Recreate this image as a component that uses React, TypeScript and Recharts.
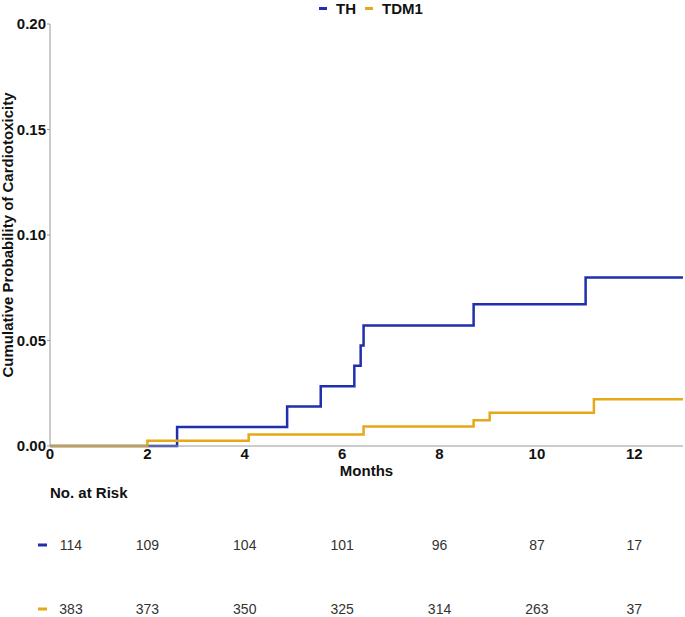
import React from "react";
import {
  LineChart,
  Line,
  XAxis,
  YAxis,
} from "recharts";

const TH_BLUE = "#1f2fae";
const TDM1_GOLD = "#e6a817";

// cumulative incidence steps (months, probability)
const thMonths = [0, 2.61, 4.87, 5.56, 6.25, 6.38, 6.44, 8.7, 11.0, 13];
const thProb = [0, 0.009, 0.0187, 0.0283, 0.038, 0.0476, 0.0571, 0.0672, 0.0799, 0.0799];

const tdm1Months = [0, 2.0, 4.08, 6.44, 8.7, 9.03, 11.17, 13];
const tdm1Prob = [0, 0.0025, 0.0055, 0.0092, 0.0122, 0.0158, 0.0222, 0.0222];

const monthTicks = [0, 2, 4, 6, 8, 10, 12];
const probTicks = [0, 0.05, 0.1, 0.15, 0.2];

const riskMonths = [0, 2, 4, 6, 8, 10, 12];
const thAtRisk = [114, 109, 104, 101, 96, 87, 17];
const tdm1AtRisk = [383, 373, 350, 325, 314, 263, 37];

const thData = thMonths.map((m, i) => ({ month: m, p: thProb[i] }));
const tdm1Data = tdm1Months.map((m, i) => ({ month: m, p: tdm1Prob[i] }));

const FONT = "'Liberation Sans', Arial, sans-serif";
const PLOT_LEFT = 50;
const PLOT_RIGHT = 683;
const X_MAX = 13;

const toX = (m: number) => PLOT_LEFT + (m / X_MAX) * (PLOT_RIGHT - PLOT_LEFT);

function LegendBox() {
  const items = [
    { name: "TH", color: TH_BLUE },
    { name: "TDM1", color: TDM1_GOLD },
  ];
  return (
    <div style={{ position: "absolute", left: 319, top: 0, display: "flex", fontFamily: FONT }}>
      {items.map((it) => (
        <div key={it.name} style={{ display: "flex", alignItems: "center", marginRight: 9 }}>
          <span style={{ width: 8, height: 3, background: it.color, display: "inline-block", marginRight: 9 }} />
          <span style={{ fontWeight: "bold", fontSize: 15, color: "#111" }}>{it.name}</span>
        </div>
      ))}
    </div>
  );
}

function RiskRow({ values, color, y }: { values: number[]; color: string; y: number }) {
  return (
    <g>
      <rect x={38} y={y - 1.5} width={9} height={3} fill={color} />
      {values.map((v, i) => (
        <text
          key={i}
          x={i === 0 ? 71 : toX(riskMonths[i])}
          y={y}
          textAnchor="middle"
          dominantBaseline="central"
          fontSize={14}
          fill="#333"
          fontFamily={FONT}
        >
          {v}
        </text>
      ))}
    </g>
  );
}

export default function App() {
  return (
    <div style={{ position: "absolute", left: 0, top: 0, width: 685, height: 617, background: "#fff" }}>
      <LineChart
        width={685}
        height={480}
        margin={{ top: 24, right: 2, bottom: 4, left: 0 }}
        style={{ fontFamily: FONT }}
      >
        <XAxis
          type="number"
          dataKey="month"
          domain={[0, X_MAX]}
          ticks={monthTicks}
          allowDuplicatedCategory={false}
          height={30}
          stroke="#999"
          tickLine={false}
          tick={{ fill: "#111", fontWeight: "bold", fontSize: 15, dy: -6 }}
          label={{
            value: "Months",
            position: "insideBottom",
            offset: 0,
            fill: "#111",
            fontWeight: "bold",
            fontSize: 15,
          }}
        />
        <YAxis
          type="number"
          domain={[0, 0.2]}
          ticks={probTicks}
          width={50}
          stroke="#999"
          tickLine={{ stroke: "#999" }}
          tickSize={3}
          tickFormatter={(v: number) => v.toFixed(2)}
          tick={{ fill: "#111", fontWeight: "bold", fontSize: 15, dx: 1 }}
          label={{
            value: "Cumulative Probability of Cardiotoxicity",
            angle: -90,
            position: "insideLeft",
            offset: 8,
            style: { textAnchor: "middle" },
            fill: "#111",
            fontWeight: "bold",
            fontSize: 15,
          }}
        />
        <Line
          data={thData}
          dataKey="p"
          name="TH"
          type="stepAfter"
          stroke={TH_BLUE}
          strokeWidth={2.5}
          dot={false}
          activeDot={false}
          isAnimationActive={false}
        />
        <Line
          data={tdm1Data}
          dataKey="p"
          name="TDM1"
          type="stepAfter"
          stroke={TDM1_GOLD}
          strokeWidth={2.5}
          dot={false}
          activeDot={false}
          isAnimationActive={false}
        />
      </LineChart>
      <LegendBox />
      <svg width={685} height={137} style={{ position: "absolute", left: 0, top: 480 }}>
        <text x={50} y={12} dominantBaseline="central" fontSize={15} fontWeight="bold" fill="#111" fontFamily={FONT}>
          No. at Risk
        </text>
        <RiskRow values={thAtRisk} color={TH_BLUE} y={65} />
        <RiskRow values={tdm1AtRisk} color={TDM1_GOLD} y={129} />
      </svg>
    </div>
  );
}
